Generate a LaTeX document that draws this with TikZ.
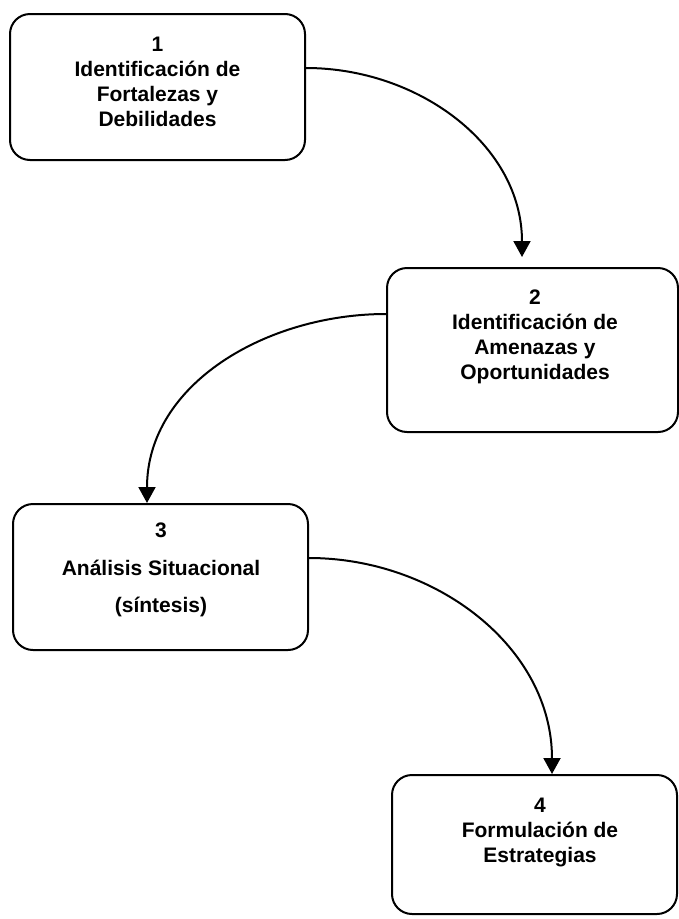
\documentclass[tikz,border=0pt]{standalone}
\usepackage{fontspec}
\setmainfont{Liberation Sans}
\usetikzlibrary{arrows.meta}
\begin{document}
\begin{tikzpicture}[x=1pt,y=-1pt,
  box/.style={draw, rounded corners=20pt, line width=2pt, inner sep=0pt},
  txt/.style={font=\bfseries\fontsize{21}{25}\selectfont, align=center, inner sep=0pt},
  arr/.style={-{Triangle[length=16pt,width=17pt]}, line width=2pt}]
\useasboundingbox (0,0) rectangle (679,919);
\node[box, minimum width=295pt, minimum height=146pt] (b1) at (157.5,87) {};
\node[box, minimum width=291pt, minimum height=164pt] (b2) at (532.5,350) {};
\node[box, minimum width=295pt, minimum height=146pt] (b3) at (160.5,577) {};
\node[box, minimum width=285pt, minimum height=139pt] (b4) at (534.5,844.5) {};
\node[txt] (t1) at (157.5,82) {1\\Identificación de\\Fortalezas y\\Debilidades};
\node[txt] (t2) at (535,337) {2\\Identificación de\\Amenazas y\\Oportunidades};
\node[txt, font=\bfseries\fontsize{21}{37.5}\selectfont] (t3) at (161,570) {3\\Análisis Situacional\\(síntesis)};
\node[txt] (t4) at (540,832) {4\\Formulación de\\Estrategias};
\draw[arr] ([yshift=19pt]b1.east) to[out=0,in=90] ([xshift=-10.5pt,yshift=10pt]b2.north);
\draw[arr] ([yshift=36pt]b2.west) to[out=180,in=90] ([xshift=-13.5pt]b3.north);
\draw[arr] ([yshift=19pt]b3.east) to[out=0,in=90] ([xshift=17.5pt]b4.north);
\end{tikzpicture}
\end{document}
